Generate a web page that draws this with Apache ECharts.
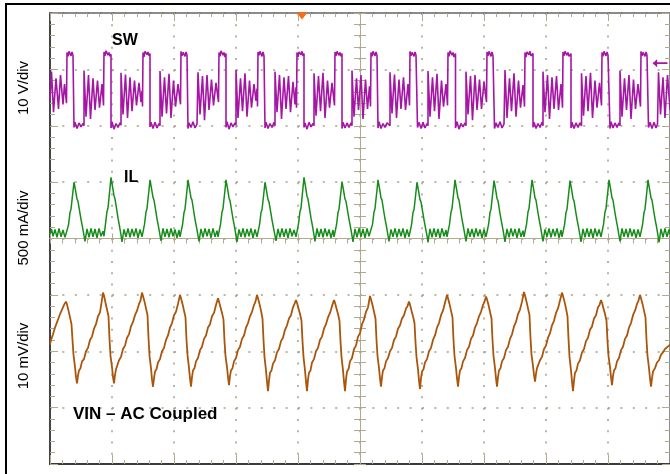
<!DOCTYPE html>
<html>
<head>
<meta charset="utf-8">
<style>
    html, body { margin: 0; padding: 0; background: #fff; }
    #container { width: 670px; height: 474px; }
</style>
</head>
<body>
<div id="container"></div>
<script src="https://cdn.jsdelivr.net/npm/echarts@6/dist/echarts.min.js"></script>
<script type="text/javascript">
    // time in record samples (62 per division, record centred on 0)
    var tMin = -310, tMax = 310, tDiv = 62;

    // channel scaling: value per division and where the channel's zero sits (in divisions)
    var swScale = 10, swZero = 2;       // 10 V/div
    var ilScale = 500, ilZero = 0;      // 500 mA/div
    var vinScale = 10, vinZero = -2;    // 10 mV/div, AC coupled

    var trigTime = -58;
    var trigLevel = 11.1;   // V on SW

    // SW node, [sample, V]
    var swData = [
        [-310,4.5],[-308.5,9.6],[-306.5,2.4],[-304,8.4],[-301.5,3.0],[-299.5,9.0],[-297,3.8],[-295.5,7.4],[-293.5,4.0],
        [-293,13.0],[-292,12.3],[-291,13.2],[-289,12.4],[-288,13.1],[-287,12.5],[-286,12.8],[-286,-0.3],[-285,0.6],[-283,-0.5],[-281,0.5],[-279,-0.2],[-277,0.4],[-276,0.0],
        [-276,9.8],[-274,1.6],[-271.5,9.0],[-269.5,1.2],[-267,8.4],[-265,2.8],[-262.5,8.0],[-260.5,3.2],[-258,7.4],[-256.5,3.6],
        [-256,13.1],[-255,12.4],[-254,13.3],[-252,12.5],[-251,13.0],[-250,12.3],[-249,12.7],[-249,-0.4],[-248,0.7],[-246,-0.6],[-244,0.4],[-242,-0.3],[-240,0.5],[-239,0.1],
        [-239,9.4],[-237,2.0],[-234.5,9.1],[-232.5,1.4],[-230,8.6],[-228,2.6],[-225.5,8.0],[-223.5,3.6],[-221,7.6],[-219,4.2],[-218,6.2],[-217.5,3.4],
        [-217,13.0],[-216,12.2],[-215,13.2],[-213,12.6],[-212,13.1],[-211,12.4],[-210,12.8],[-210,-0.2],[-209,0.6],[-207,-0.5],[-205,0.6],[-203,-0.4],[-201,0.4],[-200,0.0],
        [-200,9.7],[-198,1.6],[-195.5,8.6],[-193.5,2.2],[-191,9.2],[-189,1.4],[-186.5,8.0],[-184.5,3.4],[-182,7.4],[-179.5,3.8],
        [-179,13.2],[-178,12.4],[-177,13.0],[-175,12.3],[-174,13.1],[-173,12.5],[-172,12.7],[-172,-0.5],[-171,0.5],[-169,-0.3],[-167,0.7],[-165,-0.4],[-163,0.3],[-162,0.0],
        [-162,9.5],[-160,2.0],[-157.5,8.8],[-155.5,1.0],[-153,9.0],[-151,2.8],[-148.5,8.2],[-146.5,3.6],[-144,7.6],[-141.5,4.2],
        [-141,13.0],[-140,12.3],[-139,13.3],[-137,12.5],[-136,13.0],[-135,12.2],[-134,12.8],[-134,-0.3],[-133,0.7],[-131,-0.6],[-129,0.5],[-127,-0.2],[-125,0.5],[-124,0.1],
        [-124,9.9],[-122,1.4],[-119.5,8.4],[-117.5,2.6],[-115,9.3],[-113,1.6],[-110.5,8.0],[-108.5,3.2],[-106,7.4],[-104,4.4],[-103,6.6],[-102.5,3.4],
        [-102,13.1],[-101,12.5],[-100,13.2],[-98,12.3],[-97,13.1],[-96,12.4],[-95,12.7],[-95,-0.4],[-94,0.6],[-92,-0.5],[-90,0.4],[-88,-0.3],[-86,0.6],[-85,0.0],
        [-85,9.6],[-83,2.4],[-80.5,9.0],[-78.5,1.2],[-76,8.6],[-74,3.0],[-71.5,8.8],[-69.5,2.4],[-67,7.8],[-65,3.8],[-64,6.8],[-63.5,3.2],
        [-63,13.0],[-62,12.2],[-61,13.1],[-59,12.6],[-58,13.2],[-57,12.4],[-56,12.8],[-56,-0.3],[-55,0.5],[-53,-0.6],[-51,0.6],[-49,-0.2],[-47,0.4],[-46,0.0],
        [-46,9.3],[-44,1.8],[-41.5,8.8],[-39.5,2.6],[-37,9.4],[-35,1.4],[-32.5,8.0],[-30.5,3.2],[-28,7.6],[-25.5,3.6],
        [-25,13.1],[-24,12.4],[-23,13.2],[-21,12.5],[-20,13.0],[-19,12.3],[-18,12.8],[-18,-0.5],[-17,0.6],[-15,-0.4],[-13,0.5],[-11,-0.3],[-9,0.5],[-8,0.0],
        [-8,9.8],[-6,1.6],[-3.5,8.4],[-1.5,2.8],[1,9.0],[3,1.2],[5.5,8.2],[7.5,3.0],[9.5,7.0],[10.5,3.4],
        [11,13.0],[12,12.3],[13,13.2],[15,12.4],[16,13.1],[17,12.5],[18,12.7],[18,-0.4],[19,0.7],[21,-0.5],[23,0.4],[25,-0.3],[27,0.5],[30,0.0],
        [30,9.5],[32,2.2],[34.5,9.1],[36.5,1.4],[39,8.2],[41,3.0],[43.5,8.6],[45.5,2.8],[48,7.4],[49.5,3.6],
        [50,13.2],[51,12.4],[52,13.0],[54,12.3],[55,13.1],[56,12.5],[57.5,12.8],[57.5,-0.3],[59,0.6],[61,-0.5],[63,0.6],[65,-0.4],[67,0.4],[68,0.0],
        [68,9.7],[70,1.6],[72.5,8.6],[74.5,2.6],[77,9.2],[79,1.2],[81.5,8.0],[83.5,3.4],[86,7.4],[87.5,3.6],
        [88,13.0],[89,12.3],[90,13.3],[92,12.5],[93,13.0],[94,12.2],[95.5,12.8],[95.5,-0.4],[97,0.7],[99,-0.6],[101,0.4],[103,-0.2],[105,0.5],[106,0.0],
        [106,9.6],[108,2.0],[110.5,8.8],[112.5,1.0],[115,9.0],[117,2.8],[119.5,8.2],[121.5,3.0],[124,7.8],[126.5,4.2],
        [127,13.1],[128,12.4],[129,13.2],[131,12.3],[132,13.1],[133,12.4],[134.5,12.7],[134.5,-0.5],[136,0.5],[138,-0.3],[140,0.7],[142,-0.4],[144,0.3],[145,0.0],
        [145,9.9],[147,1.4],[149.5,8.4],[151.5,2.6],[154,9.3],[156,1.6],[158.5,8.0],[160.5,3.2],[163,7.2],[164.5,3.4],
        [165,13.0],[166,12.2],[167,13.1],[169,12.6],[170,13.2],[171,12.4],[173,12.8],[173,-0.3],[174,0.6],[176,-0.5],[178,0.4],[180,-0.3],[182,0.6],[183,0.0],
        [183,9.6],[185,2.4],[187.5,9.0],[189.5,1.2],[192,8.6],[194,3.0],[196.5,8.8],[198.5,2.8],[201,7.4],[202.5,3.2],
        [203,13.1],[204,12.4],[205,13.2],[207,12.5],[208,13.0],[209,12.3],[211,12.8],[211,-0.4],[212,0.6],[214,-0.5],[216,0.5],[218,-0.3],[220,0.5],[221.5,0.0],
        [221.5,9.3],[223.5,1.8],[226,8.8],[228,2.6],[230.5,9.4],[232.5,1.4],[235,8.0],[237,3.2],[239.5,7.6],[241.5,3.6],
        [242,13.0],[243,12.3],[244,13.2],[246,12.4],[247,13.1],[248,12.5],[250,12.7],[250,-0.5],[251,0.7],[253,-0.4],[255,0.5],[257,-0.3],[259,0.5],[260,0.0],
        [260,9.8],[262,1.6],[264.5,8.4],[266.5,2.8],[269,9.0],[271,1.2],[273.5,8.2],[275.5,3.0],[278,7.4],[280.5,3.4],
        [281,13.2],[282,12.4],[283,13.0],[285,12.3],[286,13.1],[287,12.5],[288.5,12.8],[288.5,-0.3],[290,0.6],[292,-0.5],[294,0.6],[296,-0.4],[297.5,0.3],[298.5,0.0],
        [298.5,9.5],[300.5,2.0],[303,8.6],[305,1.4],[307.5,9.0],[310,2.8]
    ];

    // inductor current, [sample, mA]
    var ilData = [
        [-310,40],[-308.5,85],[-307,20],[-305,80],[-303,10],[-301,90],[-299,15],[-297,75],[-295,10],[-294,20],
        [-293,25],[-291.5,120],[-290,230],[-289,260],[-288,340],[-287,420],[-286,499],[-284.5,430],[-283,350],[-282,330],[-280.5,250],[-279,170],[-277.5,100],[-276,25],[-275,-25],
        [-273,85],[-271,10],[-269,90],[-267,15],[-265,85],[-263,5],[-261,90],[-259,20],[-257,65],
        [-256,20],[-254.5,130],[-253,240],[-252,270],[-251,360],[-250,450],[-249,543],[-247.5,460],[-246,380],[-245,350],[-243.5,270],[-242,180],[-240.5,110],[-239,30],[-238,-30],
        [-236,80],[-234,15],[-232,90],[-230,10],[-228,85],[-226,20],[-224,90],[-222,5],[-220,80],[-218,15],
        [-217,20],[-215.5,125],[-214,235],[-213,265],[-212,350],[-211,430],[-210,520],[-208.5,445],[-207,365],[-206,340],[-204.5,260],[-203,175],[-201.5,105],[-200,30],[-199,-20],
        [-197,90],[-195,15],[-193,85],[-191,10],[-189,90],[-187,20],[-185,80],[-183,5],[-181,75],[-180,15],
        [-179,25],[-177.5,120],[-176,230],[-175,260],[-174,345],[-173,430],[-172,520],[-170.5,440],[-169,360],[-168,340],[-166.5,255],[-165,170],[-163.5,100],[-162,25],[-161,-25],
        [-159,85],[-157,10],[-155,90],[-153,20],[-151,85],[-149,5],[-147,90],[-145,15],[-143,70],[-142,15],
        [-141,20],[-139.5,125],[-138,235],[-137,265],[-136,350],[-135,430],[-134,520],[-132.5,445],[-131,360],[-130,335],[-128.5,255],[-127,175],[-125.5,105],[-124,25],[-123,-30],
        [-121,80],[-119,15],[-117,90],[-115,10],[-113,85],[-111,20],[-109,90],[-107,5],[-105,80],[-103,15],
        [-102,25],[-100.5,120],[-99,230],[-98,255],[-97,335],[-96,415],[-95,499],[-93.5,425],[-92,345],[-91,325],[-89.5,245],[-88,165],[-86.5,95],[-85,25],[-84,-20],
        [-82,85],[-80,10],[-78,90],[-76,15],[-74,85],[-72,5],[-70,90],[-68,20],[-66,75],[-64,15],
        [-63,20],[-61.5,130],[-60,240],[-59,270],[-58,360],[-57,450],[-56,543],[-54.5,460],[-53,375],[-52,350],[-50.5,265],[-49,180],[-47.5,110],[-46,30],[-45,-25],
        [-43,90],[-41,15],[-39,85],[-37,10],[-35,90],[-33,20],[-31,80],[-29,5],[-27,75],[-26,15],
        [-25,25],[-23.5,120],[-22,230],[-21,260],[-20,340],[-19,420],[-18,504],[-16.5,430],[-15,350],[-14,330],[-12.5,250],[-11,170],[-9.5,100],[-8,25],[-7,-30],
        [-5,85],[-3,10],[-1,90],[1,15],[3,85],[5,5],[7,90],[9,20],[10,15],
        [11,20],[12.5,125],[14,235],[15,265],[16,350],[17,430],[18,520],[19.5,445],[21,360],[22,340],[23.5,255],[25,175],[26.5,105],[28,25],[29,-25],
        [31,80],[33,15],[35,90],[37,10],[39,85],[41,20],[43,90],[45,5],[47,80],[49,15],
        [50,25],[51.5,120],[53,230],[54,255],[55,335],[56,415],[57,499],[58.5,425],[60,345],[61,325],[62.5,245],[64,165],[65.5,95],[67,25],[68,-35],
        [70,85],[72,10],[74,90],[76,15],[78,85],[80,5],[82,90],[84,20],[86,75],[87,15],
        [88,20],[89.5,125],[91,235],[92,265],[93,350],[94,430],[95,520],[96.5,440],[98,360],[99,340],[100.5,255],[102,170],[103.5,100],[105,25],[106,-25],
        [108,90],[110,15],[112,85],[114,10],[116,90],[118,20],[120,80],[122,5],[124,80],[126,15],
        [127,25],[128.5,120],[130,230],[131,260],[132,345],[133,425],[134,513],[135.5,440],[137,355],[138,335],[139.5,250],[141,170],[142.5,100],[144,25],[145,-30],
        [147,85],[149,10],[151,90],[153,20],[155,85],[157,5],[159,90],[161,15],[163,70],[164,15],
        [165,20],[166.5,125],[168,235],[169,265],[170,350],[171,430],[172,520],[173.5,445],[175,360],[176,340],[177.5,255],[179,175],[180.5,105],[182,25],[183,-25],
        [185,80],[187,15],[189,90],[191,10],[193,85],[195,20],[197,90],[199,5],[201,75],[202,15],
        [203,25],[204.5,120],[206,230],[207,260],[208,345],[209,425],[210,513],[211.5,440],[213,355],[214,335],[215.5,250],[217,170],[218.5,100],[220,25],[221,-30],
        [223,85],[225,10],[227,90],[229,15],[231,85],[233,5],[235,90],[237,20],[239,80],[241,15],
        [242,20],[243.5,125],[245,235],[246,265],[247,350],[248,430],[249,520],[250.5,445],[252,360],[253,340],[254.5,255],[256,175],[257.5,105],[259,25],[260,-25],
        [262,90],[264,15],[266,85],[268,10],[270,90],[272,20],[274,80],[276,5],[278,80],[280,15],
        [281,25],[282.5,120],[284,230],[285,260],[286,345],[287,430],[288,520],[289.5,440],[291,360],[292,340],[293.5,255],[295,175],[296.5,105],[298,25],[299,-35],
        [301,85],[303,10],[305,90],[307,15],[309,80],[310,40]
    ];

    // input ripple, AC coupled, [sample, mV]
    var vinData = [
        [-310,1.2],[-309,2.0],[-307,3.0],[-305,4.2],[-304,4.0],[-302,5.6],[-300,6.6],[-298,7.4],[-297,7.2],[-295.5,8.4],[-294,8.8],
        [-293,8.3],[-291.5,7.2],[-290,6.0],[-288.5,4.8],[-287.5,2.0],[-286.5,-0.6],[-285,-2.8],[-284,-4.6],[-283,-5.7],[-282,-4.3],[-281,-3.4],[-279.5,-3.0],[-278,-1.8],[-276,-1.4],[-274,0.0],[-272,0.6],[-270,2.0],[-268,2.6],[-266,4.0],[-264,4.8],[-262,6.2],[-260,6.9],[-258.5,8.6],[-257,10.4],
        [-256,9.9],[-254.5,8.6],[-253,7.4],[-251.5,6.2],[-250.5,2.2],[-249.5,-0.8],[-248,-2.8],[-247,-4.6],[-246,-5.7],[-245,-4.2],[-244,-3.2],[-242.5,-2.9],[-241,-1.6],[-239,-1.0],[-237,0.4],[-235,1.0],[-233,2.4],[-231,3.0],[-229,4.4],[-227,5.2],[-225,6.4],[-223,7.2],[-221,8.4],[-219.5,9.0],[-218,10.4],
        [-217,9.8],[-215.5,8.8],[-214,7.6],[-212.5,6.4],[-211.5,2.4],[-210.5,-0.8],[-209,-3.0],[-208,-5.0],[-207,-6.3],[-206,-4.8],[-205,-3.6],[-203.5,-3.2],[-202,-2.0],[-200,-1.4],[-198,0.0],[-196,0.6],[-194,2.0],[-192,2.8],[-190,4.2],[-188,5.0],[-186,6.4],[-184,7.0],[-182,8.4],[-180,10.0],
        [-179,9.4],[-177.5,8.4],[-176,7.2],[-174.5,6.0],[-173.5,2.0],[-172.5,-0.6],[-171,-3.0],[-170,-4.8],[-169,-6.3],[-168,-4.6],[-167,-3.4],[-165.5,-3.0],[-164,-1.8],[-162,-1.2],[-160,0.2],[-158,0.8],[-156,2.2],[-154,2.8],[-152,4.2],[-150,4.8],[-148,6.2],[-146,6.8],[-144,8.2],[-142,9.4],
        [-141,8.8],[-139.5,7.8],[-138,6.8],[-136.5,5.6],[-135.5,1.8],[-134.5,-0.8],[-133,-2.8],[-132,-4.6],[-131,-6.0],[-130,-4.4],[-129,-3.4],[-127.5,-3.0],[-126,-1.8],[-124,-1.2],[-122,0.2],[-120,0.8],[-118,2.2],[-116,2.8],[-114,4.2],[-112,5.0],[-110,6.2],[-108,7.0],[-106,8.2],[-104.5,8.8],[-103,10.0],
        [-102,9.4],[-100.5,8.4],[-99,7.2],[-97.5,5.8],[-96.5,2.0],[-95.5,-1.0],[-94,-3.4],[-93,-5.4],[-92,-7.1],[-91,-5.2],[-90,-3.8],[-88.5,-3.4],[-87,-2.2],[-85,-1.6],[-83,-0.2],[-81,0.4],[-79,1.8],[-77,2.4],[-75,3.8],[-73,4.6],[-71,5.8],[-69,6.4],[-67,7.8],[-65.5,8.4],[-64,9.1],
        [-63,8.6],[-61.5,7.6],[-60,6.6],[-58.5,5.4],[-57.5,1.8],[-56.5,-1.0],[-55,-3.4],[-54,-5.4],[-53,-7.1],[-52,-5.0],[-51,-3.8],[-49.5,-3.4],[-48,-2.0],[-46,-1.4],[-44,0.0],[-42,0.6],[-40,2.0],[-38,2.6],[-36,4.0],[-34,4.8],[-32,6.0],[-30,6.8],[-28,8.0],[-26,9.1],
        [-25,8.6],[-23.5,7.6],[-22,6.6],[-20.5,5.4],[-19.5,1.8],[-18.5,-1.0],[-17,-3.4],[-16,-5.4],[-15,-7.1],[-14,-5.0],[-13,-3.6],[-11.5,-3.2],[-10,-1.8],[-8,-1.2],[-6,0.4],[-4,1.0],[-2,2.6],[0,3.2],[2,4.8],[4,5.6],[6,7.0],[8,7.8],[10,9.8],
        [11,9.2],[12.5,8.2],[14,7.0],[15.5,5.8],[16.5,2.0],[17.5,-0.8],[19,-3.0],[20,-4.8],[21,-6.3],[22,-4.6],[23,-3.4],[24.5,-3.0],[26,-1.8],[28,-1.2],[30,0.0],[32,0.6],[34,2.0],[36,2.6],[38,4.0],[40,4.6],[42,5.8],[44,6.4],[46,7.6],[47.5,8.0],[49,8.8],
        [50,8.3],[51.5,7.2],[53,6.2],[54.5,5.0],[55.5,1.6],[56.5,-1.0],[58,-3.2],[59,-5.2],[60,-6.7],[61,-4.8],[62,-3.6],[63.5,-3.2],[65,-2.0],[67,-1.4],[69,0.0],[71,0.6],[73,2.0],[75,2.8],[77,4.2],[79,5.0],[81,6.4],[83,7.2],[85,8.6],[87,10.0],
        [88,9.4],[89.5,8.4],[91,7.2],[92.5,6.0],[93.5,2.0],[94.5,-0.8],[96,-3.0],[97,-4.8],[98,-6.3],[99,-4.6],[100,-3.4],[101.5,-3.0],[103,-1.8],[105,-1.2],[107,0.2],[109,0.8],[111,2.2],[113,2.8],[115,4.2],[117,5.0],[119,6.2],[121,7.0],[123,8.2],[124.5,8.8],[126,9.7],
        [127,9.2],[128.5,8.2],[130,7.0],[131.5,5.8],[132.5,2.0],[133.5,-0.8],[135,-3.0],[136,-4.8],[137,-6.3],[138,-4.6],[139,-3.4],[140.5,-3.0],[142,-1.8],[144,-1.2],[146,0.2],[148,0.8],[150,2.2],[152,3.0],[154,4.4],[156,5.2],[158,6.6],[160,7.4],[162,8.8],[164,10.5],
        [165,9.9],[166.5,8.8],[168,7.6],[169.5,6.4],[170.5,2.4],[171.5,-0.6],[173,-2.6],[174,-4.2],[175,-5.4],[176,-4.0],[177,-3.0],[178.5,-2.8],[180,-1.6],[182,-1.0],[184,0.4],[186,1.0],[188,2.4],[190,3.2],[192,4.6],[194,5.4],[196,6.8],[198,7.6],[200,9.0],[202,10.4],
        [203,9.8],[204.5,8.8],[206,7.6],[207.5,6.2],[208.5,2.2],[209.5,-1.0],[211,-3.4],[212,-5.4],[213,-7.1],[214,-5.2],[215,-3.8],[216.5,-3.4],[218,-2.2],[220,-1.6],[222,-0.2],[224,0.4],[226,1.8],[228,2.4],[230,3.8],[232,4.4],[234,5.8],[236,6.4],[238,7.8],[239.5,8.2],[241,9.1],
        [242,8.6],[243.5,7.6],[245,6.6],[246.5,5.4],[247.5,1.8],[248.5,-0.8],[250,-2.8],[251,-4.6],[252,-6.0],[253,-4.4],[254,-3.4],[255.5,-3.0],[257,-1.8],[259,-1.2],[261,0.2],[263,0.8],[265,2.2],[267,2.8],[269,4.2],[271,5.0],[273,6.4],[275,7.2],[277,8.4],[278.5,9.0],[280,10.0],
        [281,9.4],[282.5,8.4],[284,7.2],[285.5,6.0],[286.5,2.0],[287.5,-0.8],[289,-3.0],[290,-4.8],[291,-6.3],[292,-4.8],[293,-3.6],[295,-3.0],[297,-2.0],[299,-1.6],[301,-0.6],[303,-0.2],[305,0.4],[307,0.6],[309,1.0],[310,1.2]
    ];

    var tan = '#b3aa8d';
    var dotCol = '#a59d86';
    var font = '"Liberation Sans", Arial, sans-serif';

    function toDiv(data, scale, zero) {
        return data.map(function (p) { return [p[0], zero + p[1] / scale]; });
    }

    function xAx(opt) {
        var base = {
            type: 'value', min: tMin, max: tMax, interval: tDiv,
            axisLabel: {show: false},
            splitLine: {show: false},
            axisTick: {show: true, inside: true, length: 8, lineStyle: {color: tan}},
            minorTick: {show: true, splitNumber: 5, length: 4, lineStyle: {color: tan}}
        };
        return echarts.util.merge(base, opt, true);
    }
    function yAx(opt) {
        var base = {
            type: 'value', min: -4, max: 4, interval: 1,
            axisLabel: {show: false},
            splitLine: {show: false},
            axisTick: {show: true, inside: true, length: 8, lineStyle: {color: tan}},
            minorTick: {show: true, splitNumber: 5, length: 5, lineStyle: {color: tan}}
        };
        return echarts.util.merge(base, opt, true);
    }

    var dom = document.getElementById('container');
    var myChart = echarts.init(dom, null, {renderer: 'canvas'});

    var option = {
        animation: false,
        grid: {left: 50, top: 13, width: 620, height: 451, show: false},
        xAxis: [
            // centre axis, ticks hanging down
            xAx({position: 'bottom', axisLine: {onZero: true, onZeroAxisIndex: 0, lineStyle: {color: tan, width: 1}},
                 axisTick: {inside: false, length: 5}, minorTick: {length: 5}}),
            // centre axis, major ticks up
            xAx({position: 'top', axisLine: {onZero: true, onZeroAxisIndex: 0, lineStyle: {color: tan, width: 1}},
                 axisTick: {inside: false, length: 5}, minorTick: {show: false}}),
            // bottom frame + dotted vertical grid
            xAx({position: 'bottom', axisLine: {onZero: false, lineStyle: {color: '#3a3a3a', width: 2}},
                 axisTick: {length: 9},
                 splitLine: {show: true, lineStyle: {color: dotCol, width: 1.5, type: [2, 9.275]}}}),
            // top frame
            xAx({position: 'top', axisLine: {onZero: false, lineStyle: {color: '#666', width: 1.5}}})
        ],
        yAxis: [
            yAx({position: 'left', axisLine: {onZero: true, onZeroAxisIndex: 0, lineStyle: {color: tan, width: 1}},
                 axisTick: {inside: false, length: 6}, minorTick: {length: 6}}),
            yAx({position: 'right', axisLine: {onZero: true, onZeroAxisIndex: 0, lineStyle: {color: tan, width: 1}},
                 axisTick: {inside: false, length: 6}, minorTick: {length: 6}}),
            yAx({position: 'left', axisLine: {onZero: false, lineStyle: {color: '#444', width: 2}},
                 splitLine: {show: true, lineStyle: {color: dotCol, width: 1.5, type: [2, 10.4]}}}),
            yAx({position: 'right', axisLine: {onZero: false, lineStyle: {color: '#8d8d8d', width: 2}}})
        ],
        graphic: [
            {type: 'rect', shape: {x: 6, y: 4, width: 720, height: 520},
             style: {fill: 'none', stroke: '#000', lineWidth: 2}, silent: true},
            {type: 'text', x: 24, y: 88, rotation: Math.PI / 2,
             style: {text: '10 V/div', font: '15px ' + font, fill: '#000', textAlign: 'center', textVerticalAlign: 'middle'}},
            {type: 'text', x: 24, y: 228, rotation: Math.PI / 2,
             style: {text: '500 mA/div', font: '15px ' + font, fill: '#000', textAlign: 'center', textVerticalAlign: 'middle'}},
            {type: 'text', x: 24, y: 356, rotation: Math.PI / 2,
             style: {text: '10 mV/div', font: '15px ' + font, fill: '#000', textAlign: 'center', textVerticalAlign: 'middle'}},
            {type: 'text', x: 112, y: 41, z: 10,
             style: {text: 'SW', font: 'bold 16px ' + font, fill: '#000', textAlign: 'left', textVerticalAlign: 'middle'}},
            {type: 'text', x: 124, y: 178, z: 10,
             style: {text: 'IL', font: 'bold 16px ' + font, fill: '#000', textAlign: 'left', textVerticalAlign: 'middle'}},
            {type: 'text', x: 73, y: 414, z: 10,
             style: {text: 'VIN \u2013 AC Coupled', font: 'bold 17px ' + font, fill: '#000', textAlign: 'left', textVerticalAlign: 'middle'}}
        ],
        series: [
            {
                name: 'SW', type: 'line', xAxisIndex: 0, yAxisIndex: 0,
                data: toDiv(swData, swScale, swZero),
                showSymbol: false, symbol: 'none', silent: true,
                lineStyle: {color: '#a516a5', width: 1.6},
                markPoint: {
                    silent: true, label: {show: false},
                    data: [
                        {coord: [trigTime, 4], symbol: 'triangle', symbolSize: [11, 7], symbolRotate: 180,
                         symbolOffset: [0, 3], itemStyle: {color: '#ff6a13'}},
                        {coord: [tMax, swZero + trigLevel / swScale],
                         symbol: 'path://M0,4 L5,0 L5,3.2 L16,3.2 L16,4.8 L5,4.8 L5,8 Z',
                         symbolSize: [15, 8], symbolOffset: [-10, 0], itemStyle: {color: '#a516a5'}}
                    ]
                }
            },
            {
                name: 'IL', type: 'line', xAxisIndex: 0, yAxisIndex: 0,
                data: toDiv(ilData, ilScale, ilZero),
                showSymbol: false, symbol: 'none', silent: true,
                lineStyle: {color: '#178c1b', width: 1.5}
            },
            {
                name: 'VIN', type: 'line', xAxisIndex: 0, yAxisIndex: 0,
                data: toDiv(vinData, vinScale, vinZero),
                showSymbol: false, symbol: 'none', silent: true,
                lineStyle: {color: '#a9560c', width: 1.8}
            }
        ]
    };
    if (option && typeof option === "object") {
        myChart.setOption(option, true);
    }
</script>
</body>
</html>
